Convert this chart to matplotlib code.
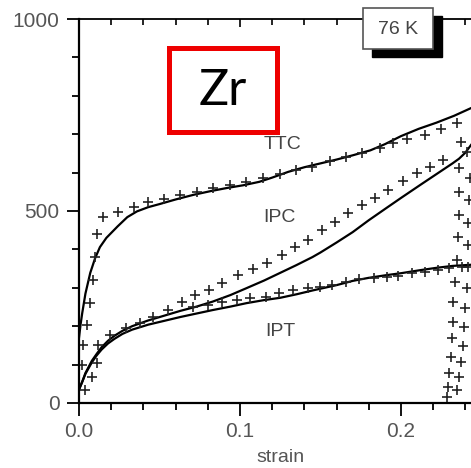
import numpy as np
import matplotlib.pyplot as plt
from matplotlib.patches import Rectangle
from matplotlib.ticker import MultipleLocator

plt.rcParams['font.family'] = ['Liberation Sans', 'DejaVu Sans']

# model curves (solid lines)
ttc_model_x = [0.0, 0.001, 0.002, 0.004, 0.007, 0.010, 0.013, 0.017, 0.024, 0.030,
               0.036, 0.043, 0.050, 0.060, 0.071, 0.082, 0.092, 0.102, 0.112, 0.120,
               0.130, 0.140, 0.150, 0.160, 0.170, 0.181, 0.190, 0.200, 0.211, 0.222,
               0.233, 0.2435]
ttc_model_y = [170, 205, 234, 285, 339, 377, 406, 430, 460, 484,
               499, 510, 518, 530, 542, 552, 560, 567, 576, 587,
               602, 614, 624, 634, 645, 658, 674, 695, 714, 730,
               748, 768]

ipc_model_x = [0.0, 0.002, 0.004, 0.008, 0.011, 0.014, 0.018, 0.022, 0.027, 0.033,
               0.043, 0.055, 0.063, 0.073, 0.083, 0.094, 0.104, 0.115, 0.125, 0.135,
               0.145, 0.150, 0.160, 0.170, 0.180, 0.191, 0.200, 0.212, 0.222, 0.232,
               0.236, 0.240, 0.2435]
ipc_model_y = [35, 55, 78, 110, 128, 145, 162, 175, 188, 200,
               215, 230, 240, 251, 264, 281, 299, 319, 339, 359,
               380, 392, 418, 445, 476, 508, 534, 568, 596, 624,
               636, 652, 672]

ipt_model_x = [0.0, 0.002, 0.004, 0.008, 0.011, 0.014, 0.018, 0.022, 0.027, 0.033,
               0.043, 0.055, 0.063, 0.073, 0.083, 0.094, 0.104, 0.115, 0.125, 0.135,
               0.145, 0.160, 0.170, 0.180, 0.191, 0.200, 0.212, 0.222, 0.232, 0.2435]
ipt_model_y = [35, 55, 76, 106, 124, 139, 155, 167, 180, 191,
               204, 216, 224, 233, 242, 251, 260, 268, 274, 283,
               293, 307, 318, 326, 333, 338, 346, 352, 357, 360]

# experimental points (crosses)
ttc_exp_x = [0.002, 0.0025, 0.005, 0.007, 0.0087, 0.010, 0.011, 0.015, 0.024, 0.034,
             0.043, 0.053, 0.063, 0.073, 0.083, 0.094, 0.104, 0.114, 0.125, 0.135,
             0.145, 0.156, 0.166, 0.176, 0.187, 0.195, 0.204, 0.215, 0.225, 0.235]
ttc_exp_y = [99, 151, 203, 260, 320, 380, 440, 484, 497, 510,
             523, 530, 542, 549, 560, 568, 576, 586, 596, 607,
             615, 630, 641, 651, 664, 677, 687, 698, 714, 729]

ipc_exp_x = [0.004, 0.011, 0.019, 0.029, 0.038, 0.046, 0.055, 0.064, 0.072, 0.081,
             0.089, 0.099, 0.108, 0.117, 0.126, 0.134, 0.142, 0.151, 0.159, 0.167,
             0.176, 0.184, 0.192, 0.201, 0.210, 0.218, 0.226, 0.237]
ipc_exp_y = [34, 104, 177, 195, 208, 224, 242, 263, 281, 294,
             313, 333, 349, 365, 385, 406, 424, 450, 471, 495,
             516, 534, 555, 578, 598, 614, 634, 680]

ipt_exp_x = [0.008, 0.012, 0.071, 0.080, 0.089, 0.098, 0.106, 0.116, 0.124, 0.133,
             0.142, 0.150, 0.157, 0.166, 0.174, 0.183, 0.191, 0.198, 0.207, 0.215,
             0.223, 0.230, 0.238]
ipt_exp_y = [68, 151, 250, 255, 263, 268, 273, 276, 286, 294,
             299, 302, 307, 315, 323, 326, 328, 331, 339, 341,
             346, 352, 354]

# unloading branches
unload_a_x = [0.2360, 0.2360, 0.2360, 0.2354, 0.2348, 0.2335, 0.2323, 0.2323,
              0.2317, 0.2310, 0.2298, 0.2292, 0.2286]
unload_a_y = [612, 549, 490, 432, 372, 315, 263, 211, 169, 120, 78, 42, 16]

unload_b_x = [0.2410, 0.2429, 0.2422, 0.2416, 0.2416, 0.2416, 0.2410, 0.2398, 0.2391,
              0.2385, 0.2373, 0.2360, 0.2348]
unload_b_y = [654, 586, 529, 469, 411, 354, 299, 247, 198, 148, 107, 68, 34]

xticks = [0.0, 0.1, 0.2]
xticklabels = ['0.0', '0.1', '0.2']
yticks = [0, 500, 1000]
curve_labels = ['TTC', 'IPC', 'IPT']
curve_label_pos = [(0.1267, 672), (0.1248, 484), (0.1248, 185)]

fig = plt.figure(figsize=(4.71, 4.68), dpi=100)
ax = fig.add_axes([79 / 471, 65 / 468, 392 / 471, 384 / 468])

for mx, my in [(ttc_model_x, ttc_model_y), (ipc_model_x, ipc_model_y),
               (ipt_model_x, ipt_model_y)]:
    ax.plot(mx, my, color='black', linewidth=1.6, solid_joinstyle='round')

cross = dict(linestyle='none', marker='+', markersize=7.5, markeredgewidth=1.2,
             color='#222222')
for ex, ey in [(ttc_exp_x, ttc_exp_y), (ipc_exp_x, ipc_exp_y),
               (ipt_exp_x, ipt_exp_y), (unload_a_x, unload_a_y),
               (unload_b_x, unload_b_y)]:
    ax.plot(ex, ey, **cross)

for lab, (lx, ly) in zip(curve_labels, curve_label_pos):
    ax.text(lx, ly, lab, ha='center', va='center', fontsize=14, color='#444444')

ax.set_xlim(0, 392 / 1610)
ax.set_ylim(0, 1000)
ax.set_xticks(xticks)
ax.set_xticklabels(xticklabels)
ax.set_yticks(yticks)
ax.xaxis.set_minor_locator(MultipleLocator(0.02))
ax.yaxis.set_minor_locator(MultipleLocator(100))
ax.tick_params(which='major', length=9, width=1.3, labelsize=15,
               labelcolor='#555555', pad=5)
ax.tick_params(which='minor', length=5, width=1.3)
ax.spines['right'].set_visible(False)
ax.spines['top'].set_visible(False)
for side in ['left', 'bottom']:
    ax.spines[side].set_linewidth(1.6)

top = ax.secondary_xaxis('top')
top.set_xticks(xticks)
top.set_xticklabels([])
top.xaxis.set_minor_locator(MultipleLocator(0.02))
top.tick_params(which='major', direction='in', length=6, width=1.2)
top.tick_params(which='minor', direction='in', length=4, width=1.2)
top.spines['top'].set_linewidth(1.3)

ax.set_xlabel('strain', fontsize=14, color='#555555', va='center')
ax.xaxis.set_label_coords((280 - 79) / 392, (403 - 457) / 384)

# "76 K" box with drop shadow
fig.patches.append(Rectangle((372 / 471, 1 - 57 / 468), 70 / 471, 41 / 468,
                             transform=fig.transFigure, facecolor='black',
                             edgecolor='black', zorder=5))
fig.patches.append(Rectangle((363 / 471, 1 - 49 / 468), 70 / 471, 41 / 468,
                             transform=fig.transFigure, facecolor='white',
                             edgecolor='#555555', linewidth=1.2, zorder=6))
fig.text(398 / 471, 1 - 29 / 468, '76 K', ha='center', va='center',
         fontsize=14, color='#444444', zorder=7)

# "Zr" red box
fig.patches.append(Rectangle((169 / 471, 1 - 132 / 468), 108 / 471, 84 / 468,
                             transform=fig.transFigure, facecolor='white',
                             edgecolor='#ee0000', linewidth=3.6, zorder=5))
fig.text(223 / 471, 1 - 91 / 468, 'Zr', ha='center', va='center',
         fontsize=36, color='black', family=['Lato', 'DejaVu Sans'], zorder=7)

fig.savefig('out.png', dpi=100)
